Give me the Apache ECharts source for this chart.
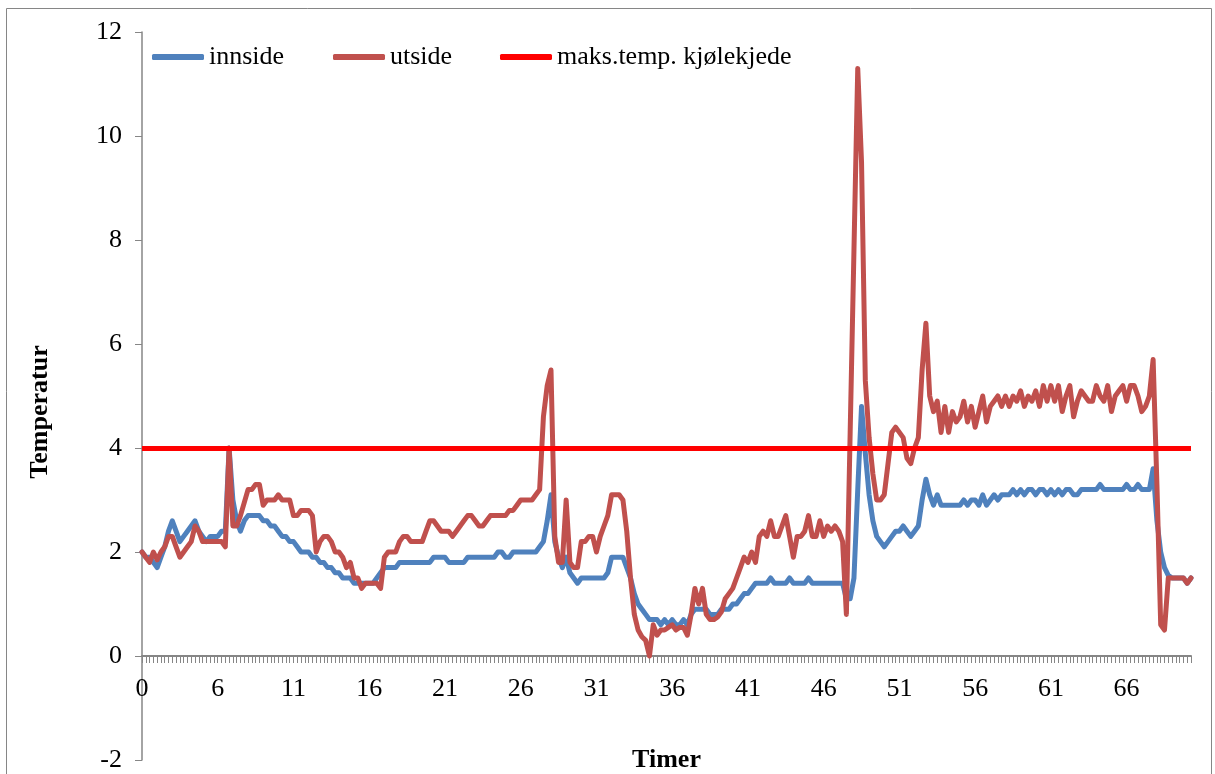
<!DOCTYPE html>
<html>
<head>
<meta charset="utf-8">
<script src="https://cdn.jsdelivr.net/npm/echarts/dist/echarts.min.js"></script>
<style>
html,body{margin:0;padding:0;background:#fff;}
#chart{width:1215px;height:774px;}
</style>
</head>
<body>
<div id="chart"></div>
<script>
// x-axis tick labels (one label every 20 samples)
const tickLabels = ['0','6','11','16','21','26','31','36','41','46','51','56','61','66'];
const labelStep = 20;
const maxTemp = 4; // maks.temp. kjølekjede

const innside = [
 2.0,1.9,1.9,1.8,1.7,1.9,2.1,2.4,2.6,2.4,
 2.2,2.3,2.4,2.5,2.6,2.4,2.3,2.2,2.3,2.3,
 2.3,2.4,2.4,4.0,3.0,2.6,2.4,2.6,2.7,2.7,
 2.7,2.7,2.6,2.6,2.5,2.5,2.4,2.3,2.3,2.2,
 2.2,2.1,2.0,2.0,2.0,1.9,1.9,1.8,1.8,1.7,
 1.7,1.6,1.6,1.5,1.5,1.5,1.4,1.4,1.4,1.4,
 1.4,1.4,1.5,1.6,1.7,1.7,1.7,1.7,1.8,1.8,
 1.8,1.8,1.8,1.8,1.8,1.8,1.8,1.9,1.9,1.9,
 1.9,1.8,1.8,1.8,1.8,1.8,1.9,1.9,1.9,1.9,
 1.9,1.9,1.9,1.9,2.0,2.0,1.9,1.9,2.0,2.0,
 2.0,2.0,2.0,2.0,2.0,2.1,2.2,2.6,3.1,2.2,
 1.9,1.7,1.9,1.6,1.5,1.4,1.5,1.5,1.5,1.5,
 1.5,1.5,1.5,1.6,1.9,1.9,1.9,1.9,1.7,1.5,
 1.2,1.0,0.9,0.8,0.7,0.7,0.7,0.6,0.7,0.6,
 0.7,0.6,0.6,0.7,0.6,0.8,0.9,0.9,0.9,0.9,
 0.8,0.8,0.8,0.9,0.9,0.9,1.0,1.0,1.1,1.2,
 1.2,1.3,1.4,1.4,1.4,1.4,1.5,1.4,1.4,1.4,
 1.4,1.5,1.4,1.4,1.4,1.4,1.5,1.4,1.4,1.4,
 1.4,1.4,1.4,1.4,1.4,1.4,1.1,1.1,1.5,3.2,
 4.8,3.9,3.1,2.6,2.3,2.2,2.1,2.2,2.3,2.4,
 2.4,2.5,2.4,2.3,2.4,2.5,3.0,3.4,3.1,2.9,
 3.1,2.9,2.9,2.9,2.9,2.9,2.9,3.0,2.9,3.0,
 3.0,2.9,3.1,2.9,3.0,3.1,3.0,3.1,3.1,3.1,
 3.2,3.1,3.2,3.1,3.2,3.2,3.1,3.2,3.2,3.1,
 3.2,3.1,3.2,3.1,3.2,3.2,3.1,3.1,3.2,3.2,
 3.2,3.2,3.2,3.3,3.2,3.2,3.2,3.2,3.2,3.2,
 3.3,3.2,3.2,3.3,3.2,3.2,3.2,3.6,2.6,2.0,
 1.7,1.55,1.5,1.5,1.5,1.5,1.4,1.5
];

const utside = [
 2.0,1.9,1.8,2.0,1.85,2.0,2.1,2.3,2.3,2.1,
 1.9,2.0,2.1,2.2,2.5,2.4,2.2,2.2,2.2,2.2,
 2.2,2.2,2.1,4.0,2.5,2.5,2.7,2.95,3.2,3.2,
 3.3,3.3,2.9,3.0,3.0,3.0,3.1,3.0,3.0,3.0,
 2.7,2.7,2.8,2.8,2.8,2.7,2.0,2.2,2.3,2.3,
 2.2,2.0,2.0,1.9,1.7,1.8,1.5,1.5,1.3,1.4,
 1.4,1.4,1.4,1.3,1.9,2.0,2.0,2.0,2.2,2.3,
 2.3,2.2,2.2,2.2,2.2,2.4,2.6,2.6,2.5,2.4,
 2.4,2.4,2.3,2.4,2.5,2.6,2.7,2.7,2.6,2.5,
 2.5,2.6,2.7,2.7,2.7,2.7,2.7,2.8,2.8,2.9,
 3.0,3.0,3.0,3.0,3.1,3.2,4.6,5.2,5.5,2.3,
 1.8,1.8,3.0,1.8,1.7,1.7,2.2,2.2,2.3,2.3,
 2.0,2.3,2.5,2.7,3.1,3.1,3.1,3.0,2.4,1.5,
 0.8,0.5,0.37,0.3,0.0,0.6,0.4,0.5,0.5,0.55,
 0.6,0.5,0.55,0.55,0.4,0.8,1.3,1.0,1.3,0.8,
 0.7,0.7,0.75,0.85,1.1,1.2,1.3,1.5,1.7,1.9,
 1.8,2.0,1.8,2.3,2.4,2.3,2.6,2.3,2.3,2.5,
 2.7,2.3,1.9,2.3,2.3,2.4,2.7,2.3,2.3,2.6,
 2.3,2.5,2.4,2.5,2.4,2.2,0.8,4.3,7.8,11.3,
 9.5,5.3,4.2,3.5,3.0,3.0,3.1,3.7,4.3,4.4,
 4.3,4.2,3.8,3.7,4.0,4.2,5.5,6.4,5.0,4.7,
 4.9,4.3,4.8,4.3,4.7,4.5,4.6,4.9,4.5,4.8,
 4.4,4.7,5.0,4.5,4.8,4.9,5.0,4.8,5.0,4.8,
 5.0,4.9,5.1,4.8,5.0,4.9,5.1,4.8,5.2,4.9,
 5.2,4.9,5.2,4.7,5.0,5.2,4.6,4.9,5.1,5.0,
 4.9,4.9,5.2,5.0,4.9,5.2,4.7,5.0,5.1,5.2,
 4.9,5.2,5.2,5.0,4.7,4.8,5.0,5.7,3.3,0.6,
 0.5,1.5,1.5,1.5,1.5,1.5,1.4,1.5
];

const categories = innside.map((_, i) => String(i));

const FONT = '"Times New Roman", "Liberation Serif", serif';
const AXIS_GRAY = '#868686';

const legendBase = {
  top: 44, padding: 0, itemWidth: 52, itemHeight: 6, itemGap: 0,
  icon: 'roundRect',
  textStyle: { fontFamily: FONT, fontSize: 26, color: '#000' },
  selectedMode: false
};

const chart = echarts.init(document.getElementById('chart'), null, { renderer: 'canvas' });
chart.setOption({
  animation: false,
  backgroundColor: '#fff',
  textStyle: { fontFamily: FONT },
  grid: { left: 142, right: 24, top: 32, bottom: 14, containLabel: false, outerBoundsMode: 'none' },
  legend: [
    Object.assign({}, legendBase, { left: 152, data: ['innside'] }),
    Object.assign({}, legendBase, { left: 333, data: ['utside'] }),
    Object.assign({}, legendBase, { left: 500, data: ['maks.temp. kjølekjede'] })
  ],
  xAxis: {
    type: 'category',
    data: categories,
    boundaryGap: false,
    name: 'Timer',
    nameLocation: 'middle',
    nameGap: -13,
    nameTextStyle: { fontFamily: FONT, fontSize: 26, fontWeight: 'bold', color: '#000' },
    axisLine: { onZero: true, lineStyle: { color: AXIS_GRAY, width: 2 } },
    axisTick: { show: true, interval: 0, length: 7, lineStyle: { color: AXIS_GRAY, width: 1 } },
    axisLabel: {
      interval: labelStep - 1,
      margin: -84,
      fontFamily: FONT, fontSize: 26, color: '#000',
      formatter: (v, idx) => (idx % labelStep === 0 && tickLabels[idx / labelStep] !== undefined) ? tickLabels[idx / labelStep] : ''
    },
    splitLine: { show: false }
  },
  yAxis: {
    type: 'value',
    min: -2, max: 12, interval: 2,
    axisLine: { show: true, lineStyle: { color: AXIS_GRAY, width: 1.5 } },
    axisTick: { show: true, length: 7, lineStyle: { color: AXIS_GRAY } },
    axisLabel: { margin: 20, fontFamily: FONT, fontSize: 26, color: '#000' },
    splitLine: { show: false }
  },
  graphic: [
    { type: 'rect', silent: true, z: -10,
      shape: { x: 6.5, y: 8.5, width: 1205, height: 800 },
      style: { fill: null, stroke: AXIS_GRAY, lineWidth: 1 } },
    { type: 'text', silent: true,
      x: 40, y: 412, rotation: Math.PI / 2,
      style: { text: 'Temperatur', fontFamily: FONT, fontSize: 26, fontWeight: 'bold',
               fill: '#000', align: 'center', verticalAlign: 'middle' } }
  ],
  series: [
    { name: 'innside', type: 'line', data: innside, showSymbol: false, symbol: 'none',
      color: '#4F81BD',
      lineStyle: { color: '#4F81BD', width: 5, cap: 'round', join: 'round' }, z: 2 },
    { name: 'utside', type: 'line', data: utside, showSymbol: false, symbol: 'none',
      color: '#C0504D',
      lineStyle: { color: '#C0504D', width: 5, cap: 'round', join: 'round' }, z: 3 },
    { name: 'maks.temp. kjølekjede', type: 'line', data: [], symbol: 'none',
      color: '#FF0000', lineStyle: { color: '#FF0000', width: 5 }, z: 4,
      markLine: {
        silent: true, symbol: ['none', 'none'], label: { show: false },
        lineStyle: { color: '#FF0000', width: 5, type: 'solid' },
        emphasis: { disabled: true },
        data: [{ yAxis: maxTemp }]
      } }
  ]
});
</script>
</body>
</html>
